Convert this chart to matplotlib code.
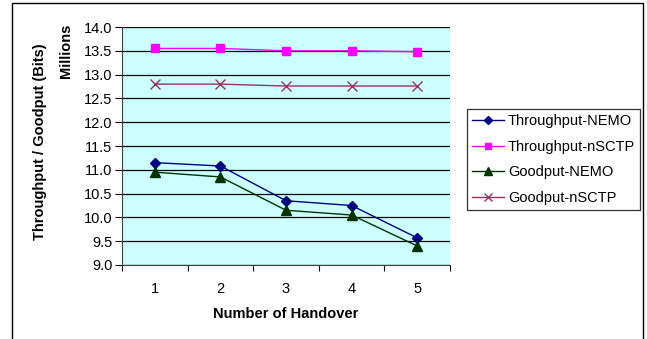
import matplotlib
matplotlib.use("Agg")
import matplotlib.pyplot as plt
from matplotlib.patches import Rectangle

plt.rcParams['font.family'] = ['Liberation Sans', 'DejaVu Sans']

handovers = [1, 2, 3, 4, 5]
throughput_nemo = [11.15, 11.08, 10.35, 10.25, 9.57]
throughput_nsctp = [13.55, 13.55, 13.50, 13.50, 13.48]
goodput_nemo = [10.95, 10.85, 10.15, 10.05, 9.40]
goodput_nsctp = [12.80, 12.80, 12.76, 12.76, 12.76]
series_names = ["Throughput-NEMO", "Throughput-nSCTP", "Goodput-NEMO", "Goodput-nSCTP"]
y_ticks = [9.0, 9.5, 10.0, 10.5, 11.0, 11.5, 12.0, 12.5, 13.0, 13.5, 14.0]

W, H = 647, 339
FS = 10.5
fig = plt.figure(figsize=(W/100, H/100), dpi=100)
fig.patch.set_facecolor('white')
ax = fig.add_axes([122/W, 1-265/H, (450-122)/W, (265-27)/H])
ax.set_facecolor('#CCFFFF')

ax.plot(handovers, throughput_nemo, color='#000080', marker='D', markersize=5, lw=1, label=series_names[0])
ax.plot(handovers, throughput_nsctp, color='#FF00FF', marker='s', markersize=6, lw=1, label=series_names[1])
ax.plot(handovers, goodput_nemo, color='#003300', marker='^', markersize=7, lw=1, label=series_names[2])
ax.plot(handovers, goodput_nsctp, color='#993366', marker='x', markersize=7, lw=1, mew=1, label=series_names[3])

ax.set_xlim(0.5, 5.5)
ax.set_ylim(9.0, 14.0)
ax.set_yticks(y_ticks)
ax.set_yticklabels([f"{v:.1f}" for v in y_ticks], fontsize=FS)
ax.yaxis.grid(True, color='black', lw=0.9)
ax.set_axisbelow(True)
ax.set_xticks([0.5, 1.5, 2.5, 3.5, 4.5, 5.5])
ax.set_xticklabels([])
ax.set_xticks(handovers, minor=True)
ax.set_xticklabels([str(h) for h in handovers], minor=True, fontsize=FS)
ax.tick_params(axis='x', which='major', direction='out', length=4, width=0.8)
ax.tick_params(axis='x', which='minor', length=0, pad=12)
ax.tick_params(axis='y', direction='out', length=5, width=0.8, pad=2)
for s in ['top', 'right']:
    ax.spines[s].set_visible(False)
ax.spines['left'].set_color('#404040')
ax.spines['bottom'].set_color('#404040')

ax.set_xlabel("Number of Handover", fontsize=FS, fontweight='bold', labelpad=8)
fig.text(40/W, 1-142/H, "Throughput / Goodput (Bits)", rotation=90, fontsize=FS,
         fontweight='bold', ha='center', va='center')
fig.text(66/W, 1-51/H, "Millions", rotation=90, fontsize=FS,
         fontweight='bold', ha='center', va='center')

leg = ax.legend(loc='upper left', bbox_to_anchor=(467/W, 1-109/H), bbox_transform=fig.transFigure,
                fontsize=FS, frameon=True, fancybox=False, edgecolor='black',
                borderpad=0.35, labelspacing=0.8, handlelength=2.2, handletextpad=0.25,
                borderaxespad=0, markerscale=0.75)
leg.get_frame().set_linewidth(0.9)

fig.patches.append(Rectangle((12/W, -0.05), (643-12)/W, 1-3/H+0.05, transform=fig.transFigure,
                             fill=False, edgecolor='black', lw=1))

fig.savefig("out.png", dpi=100)
